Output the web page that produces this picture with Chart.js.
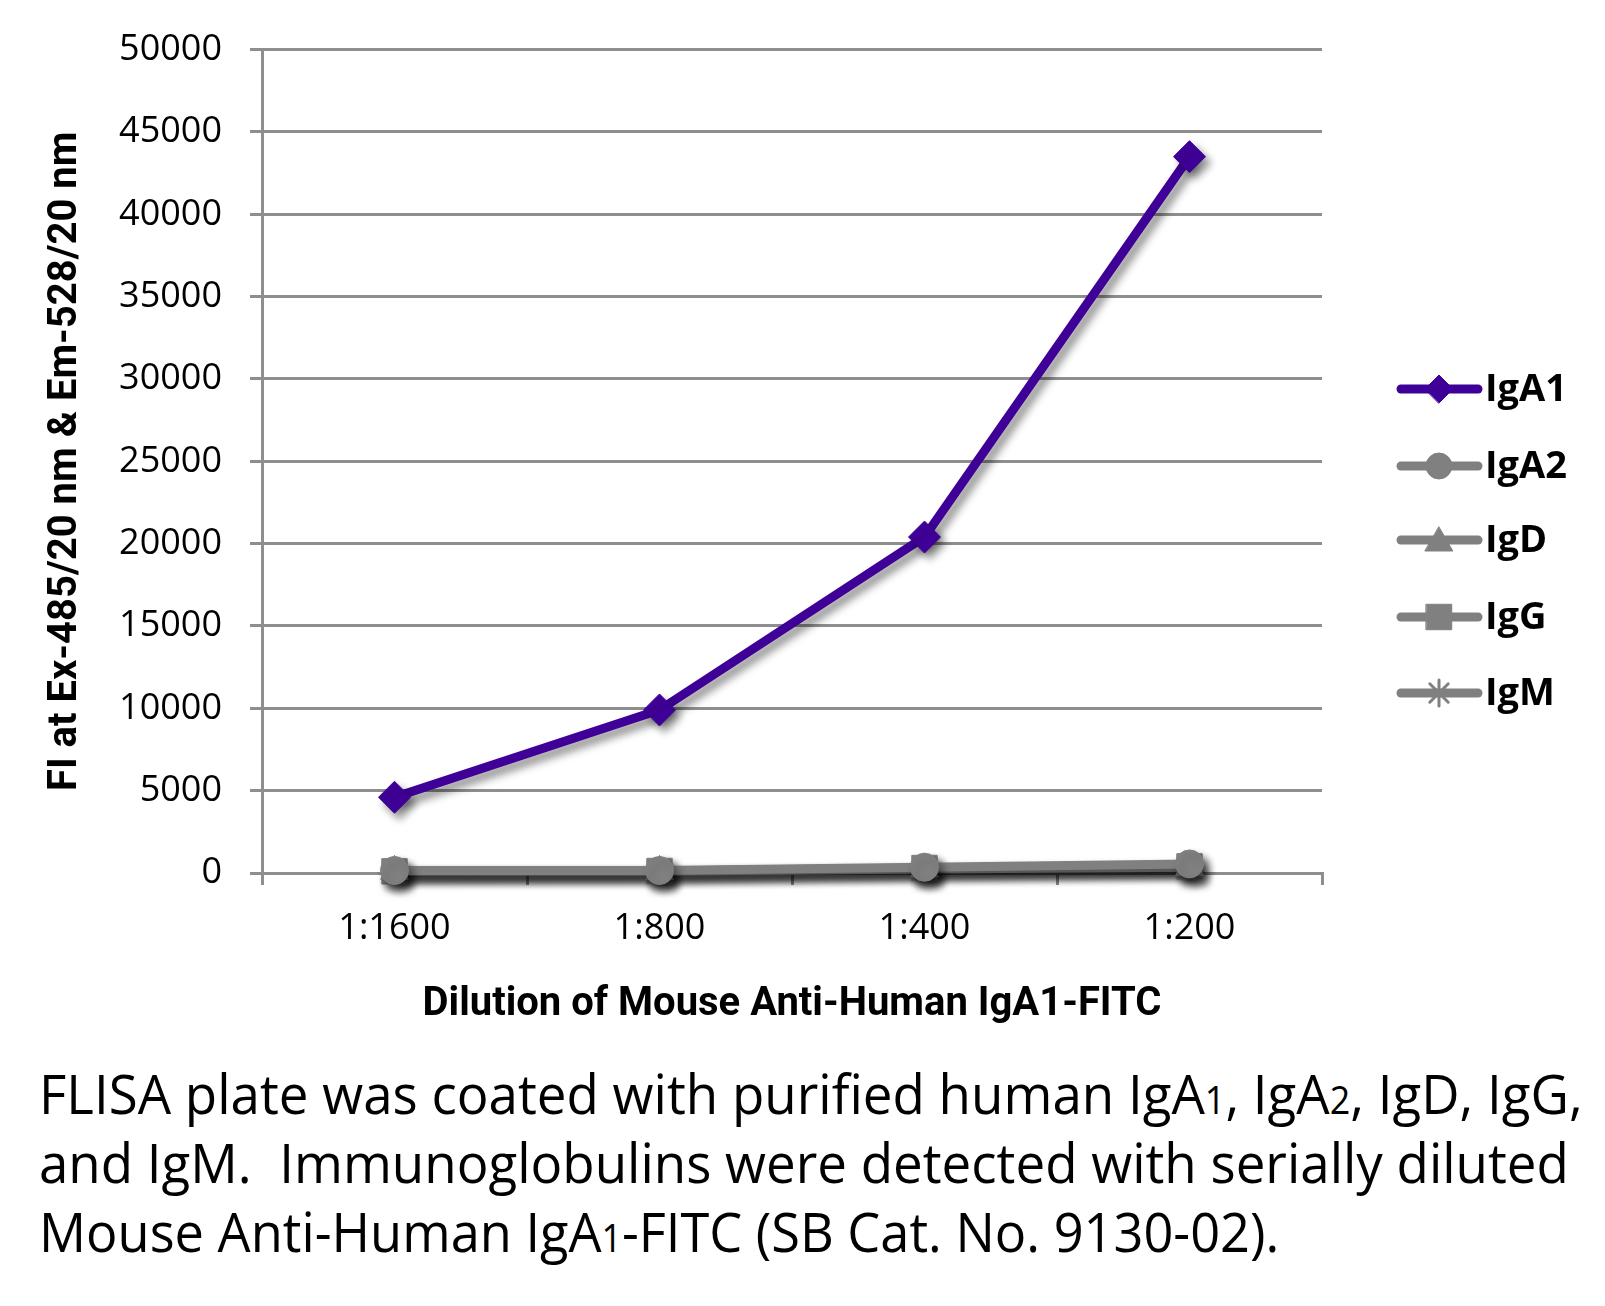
<!DOCTYPE html>
<html>
<head>
<meta charset="utf-8">
<script src="https://cdn.jsdelivr.net/npm/chart.js@4.4.1/dist/chart.umd.min.js"></script>
<style>
  body { margin: 0; background: #fff; }
  #wrap { position: relative; width: 1605px; height: 1306px; }
  #grafico { position: absolute; left: 0; top: 0; }
  #nota {
    position: absolute; left: 39px; top: 1058px;
    font-family: "Open Sans", sans-serif; font-size: 55px; color: #000;
  }
  #nota .linea { display: block; height: 69px; line-height: 69px; white-space: nowrap; transform-origin: left center; width: max-content; }
  #nota small { font-size: 0.68em; line-height: 0; }
</style>
</head>
<body>
<div id="wrap">
  <canvas id="grafico" width="1605" height="1040"></canvas>
  <div id="nota">
    <span class="linea" data-ancho="1544">FLISA plate was coated with purified human IgA<small>1</small>, IgA<small>2</small>, IgD, IgG,</span>
    <span class="linea" data-ancho="1530">and IgM.&nbsp; Immunoglobulins were detected with serially diluted</span>
    <span class="linea" data-ancho="1240">Mouse Anti-Human IgA<small>1</small>-FITC (SB Cat. No. 9130-02).</span>
  </div>
</div>
<script>
// Datos
const diluciones = ['1:1600', '1:800', '1:400', '1:200'];
const valoresIgA1 = [4600, 9900, 20400, 43500];
const valoresIgA2 = [150, 150, 350, 550];
const valoresIgD = [100, 100, 250, 350];
const valoresIgG = [100, 120, 300, 400];
const valoresIgM = [80, 100, 250, 350];
const ticksY = [0, 5000, 10000, 15000, 20000, 25000, 30000, 35000, 40000, 45000, 50000];

const morado = '#3f0098';
const gris = '#808080';
const grisEje = '#8e8e8e';

const serie = (label, data, color, pointStyle, radius) => ({
  label,
  data,
  borderColor: color,
  backgroundColor: color,
  borderWidth: 9,
  pointStyle,
  pointRadius: radius,
  pointHoverRadius: radius,
  pointBorderWidth: pointStyle === 'star' ? 3 : 1,
  pointBackgroundColor: color,
  pointBorderColor: color,
  tension: 0,
  clip: false,
});

// Sombra debajo de las líneas, como en el original
const sombra = {
  id: 'sombra',
  beforeDatasetsDraw(chart) {
    const c = chart.ctx;
    c.save();
    c.shadowColor = 'rgba(0,0,0,0.45)';
    c.shadowBlur = 9;
    c.shadowOffsetX = 5;
    c.shadowOffsetY = 6;
  },
  afterDatasetsDraw(chart) {
    chart.ctx.restore();
  },
};

// Leyenda a la derecha: línea + marcador + texto
const leyenda = {
  id: 'leyenda',
  afterDraw(chart) {
    const c = chart.ctx;
    const filas = [389, 466, 540, 617, 693];
    chart.data.datasets.forEach((ds, i) => {
      const y = filas[i];
      c.save();
      c.strokeStyle = ds.borderColor;
      c.lineWidth = 9;
      c.lineCap = 'round';
      c.beginPath();
      c.moveTo(1401, y);
      c.lineTo(1478, y);
      c.stroke();
      c.fillStyle = ds.borderColor;
      c.strokeStyle = ds.borderColor;
      c.lineWidth = ds.pointBorderWidth;
      Chart.helpers.drawPoint(c, {
        pointStyle: ds.pointStyle,
        radius: ds.legendRadius,
        rotation: 0,
        borderWidth: ds.pointBorderWidth,
      }, 1439, ds.pointStyle === 'triangle' ? y + 3 : y);
      c.fillStyle = '#000';
      c.font = 'bold 38px "Open Sans", sans-serif';
      c.textBaseline = 'middle';
      c.textAlign = 'left';
      c.fillText(ds.label, 1485, y + 1);
      c.restore();
    });
  },
};

const datasets = [
  serie('IgA1', valoresIgA1, morado, 'rectRot', 16),
  serie('IgA2', valoresIgA2, gris, 'circle', 14),
  serie('IgD', valoresIgD, gris, 'triangle', 16),
  serie('IgG', valoresIgG, gris, 'rect', 18),
  serie('IgM', valoresIgM, gris, 'star', 13),
];
[14, 13, 16, 18, 13].forEach((r, i) => { datasets[i].legendRadius = r; });

new Chart(document.getElementById('grafico').getContext('2d'), {
  type: 'line',
  data: { labels: diluciones, datasets },
  options: {
    responsive: false,
    animation: false,
    layout: { padding: { left: 20, right: 283, top: 46, bottom: 0 } },
    plugins: {
      legend: { display: false },
      tooltip: { enabled: false },
    },
    scales: {
      x: {
        type: 'category',
        offset: true,
        grid: { offset: true, drawOnChartArea: false, drawTicks: true, tickLength: 12, color: grisEje, lineWidth: 3 },
        border: { color: grisEje, width: 3 },
        ticks: { color: '#000', padding: 22, font: { family: '"Open Sans", sans-serif', size: 36 } },
        title: {
          display: true,
          text: 'Dilution of Mouse Anti-Human IgA1-FITC',
          color: '#000',
          padding: { top: 0, bottom: 11 },
          font: { family: 'Roboto, sans-serif', size: 40, weight: 'bold' },
        },
        afterFit: (s) => { s.height = 1040 - 873; },
      },
      y: {
        min: 0,
        max: 50000,
        afterBuildTicks: (s) => { s.ticks = ticksY.map((v) => ({ value: v })); },
        grid: { color: grisEje, lineWidth: 3, tickLength: 12 },
        border: { color: grisEje, width: 3 },
        ticks: { color: '#000', padding: 28, callback: (v) => String(v), font: { family: '"Open Sans", sans-serif', size: 36 } },
        title: {
          display: true,
          text: 'FI at Ex-485/20 nm & Em-528/20 nm',
          color: '#000',
          padding: { top: 22, bottom: 0 },
          font: { family: 'Roboto, sans-serif', size: 40, weight: 'bold' },
        },
        afterFit: (s) => { s.width = 262 - 20; },
      },
    },
  },
  plugins: [sombra, leyenda],
});

// Ajusta el ancho de cada línea del texto al del original
document.fonts.ready.then(() => {
  document.querySelectorAll('#nota .linea').forEach((el) => {
    const objetivo = Number(el.dataset.ancho);
    el.style.transform = 'scaleX(' + (objetivo / el.offsetWidth) + ')';
  });
});
</script>
</body>
</html>
